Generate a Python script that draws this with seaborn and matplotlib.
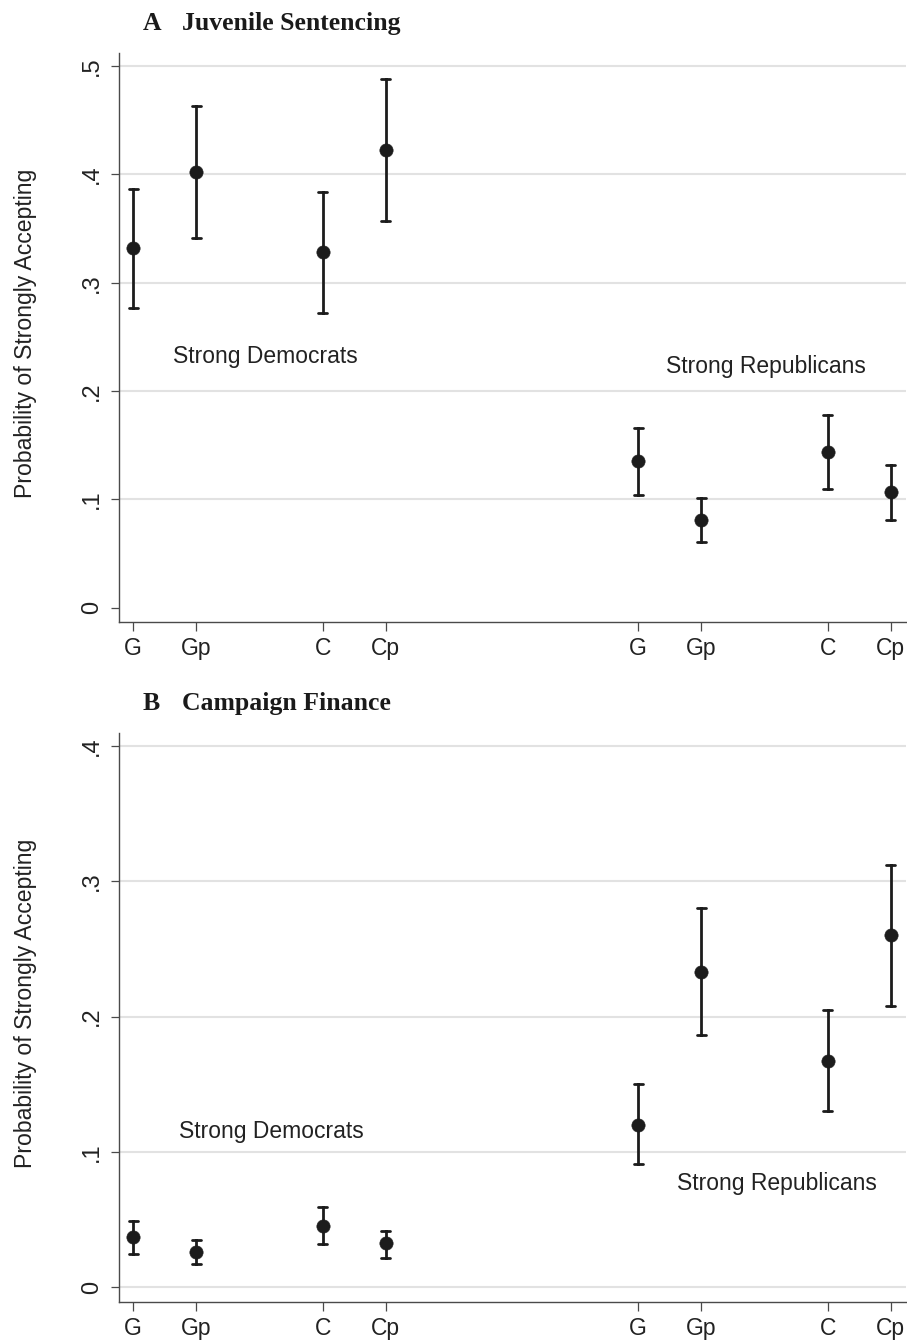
import numpy as np
import pandas as pd
import matplotlib
matplotlib.use("Agg")
import matplotlib.pyplot as plt
import seaborn as sns

# ---------------- data ----------------
groups = ["G", "Gp", "C", "Cp", "G", "Gp", "C", "Cp"]
x_positions = [1, 2, 4, 5, 9, 10, 12, 13]
party_labels = ["Strong Democrats", "Strong Republicans"]

juv_est = [0.332, 0.402, 0.328, 0.423, 0.135, 0.081, 0.144, 0.107]
juv_lo = [0.277, 0.341, 0.272, 0.357, 0.104, 0.061, 0.110, 0.081]
juv_hi = [0.387, 0.463, 0.384, 0.488, 0.166, 0.101, 0.178, 0.132]

cf_est = [0.037, 0.026, 0.0455, 0.0325, 0.120, 0.233, 0.1675, 0.260]
cf_lo = [0.025, 0.017, 0.032, 0.022, 0.091, 0.1865, 0.130, 0.208]
cf_hi = [0.049, 0.035, 0.059, 0.042, 0.150, 0.280, 0.205, 0.312]

ticks_a = [0, 0.1, 0.2, 0.3, 0.4, 0.5]
ticks_b = [0, 0.1, 0.2, 0.3, 0.4]
tick_labels_a = ["0", ".1", ".2", ".3", ".4", ".5"]
tick_labels_b = ["0", ".1", ".2", ".3", ".4"]

panel_letters = ["A", "B"]
panel_titles = ["Juvenile Sentencing", "Campaign Finance"]
ylabel = "Probability of Strongly Accepting"


def long_frame(lo, est, hi):
    rows = []
    for p, a, b, c in zip(x_positions, lo, est, hi):
        for v in (a, b, c):
            rows.append({"pos": p, "val": v})
    return pd.DataFrame(rows)


# ---------------- style ----------------
sns.set_style("white")
plt.rcParams["font.family"] = ["Liberation Sans", "DejaVu Sans"]
plt.rcParams["text.color"] = "#222222"

W, H = 907, 1343
fig = plt.figure(figsize=(W / 100, H / 100), dpi=100)

left_px, right_px = 118.5, 906
axA = fig.add_axes([left_px / W, 1 - 622 / H, (right_px - left_px) / W, (622 - 53.3) / H])
axB = fig.add_axes([left_px / W, 1 - 1301.7 / H, (right_px - left_px) / W, (1301.7 - 732.7) / H])

dot = "#1c1c1c"
unit_px = 63.12
xlim = (1 + (left_px - 133.3) / unit_px, 1 + (right_px - 133.3) / unit_px)

configs = [
    (axA, juv_lo, juv_est, juv_hi, ticks_a, tick_labels_a, (-0.0132, 0.5119),
     [(1.634, 0.2324), (9.44, 0.223)], 0.508, 30, False),
    (axB, cf_lo, cf_est, cf_hi, ticks_b, tick_labels_b, (-0.0106, 0.4098),
     [(1.724, 0.1155), (9.61, 0.0769)], 0.525, 710, True),
]

for i, (ax, lo, est, hi, yt, ytl, ylim, txtpos, ylab_y, title_base, grid0) in enumerate(configs):
    df = long_frame(lo, est, hi)
    sns.pointplot(
        data=df, x="pos", y="val", ax=ax,
        native_scale=True, estimator="median",
        errorbar=lambda v: (v.min(), v.max()),
        color=dot, linestyle="none", marker="o",
        markersize=9.6, markeredgewidth=0.4,
        capsize=0.145, err_kws={"linewidth": 2.0, "color": dot},
    )
    ax.set_xlim(*xlim)
    ax.set_ylim(*ylim)
    ax.set_xticks(x_positions, labels=groups)
    ax.set_yticks(yt, labels=ytl)
    ax.set_xlabel("")
    ax.set_ylabel(ylabel, fontsize=16.6, color="#222222")
    ax.yaxis.set_label_coords(-0.118, ylab_y)
    ax.yaxis.label.set_va("center")

    ax.grid(axis="y", color="#e2e2e2", linewidth=1.5)
    ax.grid(axis="x", visible=False)
    ax.set_axisbelow(True)
    if not grid0:
        ax.get_ygridlines()[0].set_visible(False)

    for s in ["top", "right"]:
        ax.spines[s].set_visible(False)
    for s in ["left", "bottom"]:
        ax.spines[s].set_color("#4a4a4a")
        ax.spines[s].set_linewidth(1.0)

    ax.tick_params(axis="x", direction="out", length=6.5, width=0.9, color="#4a4a4a",
                   labelsize=16.5, labelcolor="#222222", pad=4.5, bottom=True)
    ax.tick_params(axis="y", direction="out", length=6, width=0.9, color="#4a4a4a",
                   labelsize=17, labelcolor="#222222", pad=5, labelrotation=90, left=True)
    for lab in ax.get_yticklabels():
        lab.set_va("center")

    for (tx, ty), lbl in zip(txtpos, party_labels):
        ax.text(tx, ty, lbl, ha="left", va="center", fontsize=16.5, color="#222222")

    # panel title
    fig.text(143 / W, 1 - title_base / H, panel_letters[i], ha="left", va="baseline",
             fontsize=18.5, fontweight="bold", family="Liberation Serif", color="#1a1a1a")
    fig.text(182 / W, 1 - title_base / H, panel_titles[i], ha="left", va="baseline",
             fontsize=18.5, fontweight="bold", family="Liberation Serif", color="#1a1a1a")

fig.savefig("out.png", dpi=100)
